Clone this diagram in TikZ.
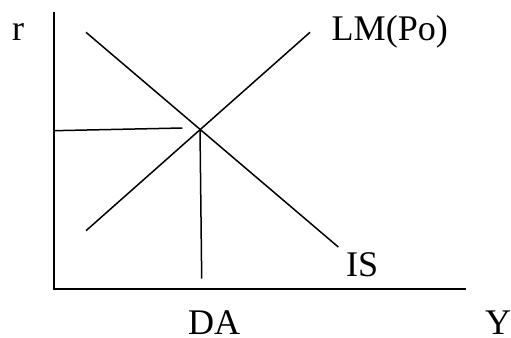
\documentclass[tikz,border=0pt]{standalone}
\usepackage{fontspec}
\setmainfont{Liberation Serif}
\begin{document}
\begin{tikzpicture}[x=1bp,y=-1bp,
  axis/.style={line width=2bp},
  curve/.style={line width=1.5bp},
  guide/.style={line width=1.5bp},
  lbl/.style={inner sep=0pt, anchor=base west, text depth=0pt, font=\fontsize{36.2}{40}\selectfont}]
\useasboundingbox (0,0) rectangle (511,337);
% axes
\coordinate (top) at (53.5,12);
\coordinate (origin) at (53.5,288.7);
\coordinate (xend) at (466,288.7);
\draw[axis] (top) -- (origin) -- (xend);
% curves
\coordinate (isA) at (86,32.3);
\coordinate (isB) at (338.3,247);
\coordinate (lmA) at (86,230.7);
\coordinate (lmB) at (310,32.3);
\draw[curve] (isA) -- (isB);
\draw[curve] (lmA) -- (lmB);
% guides
\coordinate (hA) at (53.5,130.7);
\coordinate (hB) at (182.3,128);
\coordinate (E) at (200,129.3);
\coordinate (vB) at (201.7,278.7);
\draw[guide] (hA) -- (hB);
\draw[guide] (E) -- (vB);
% labels
\node[lbl] (r) at (12,40) {r};
\node[lbl] (lm) at (331.5,40.7) {LM(Po)};
\node[lbl] (is) at (346,276.3) {IS};
\node[lbl] (da) at (188,334.3) {DA};
\node[lbl] (y) at (485,334.3) {Y};
\end{tikzpicture}
\end{document}
